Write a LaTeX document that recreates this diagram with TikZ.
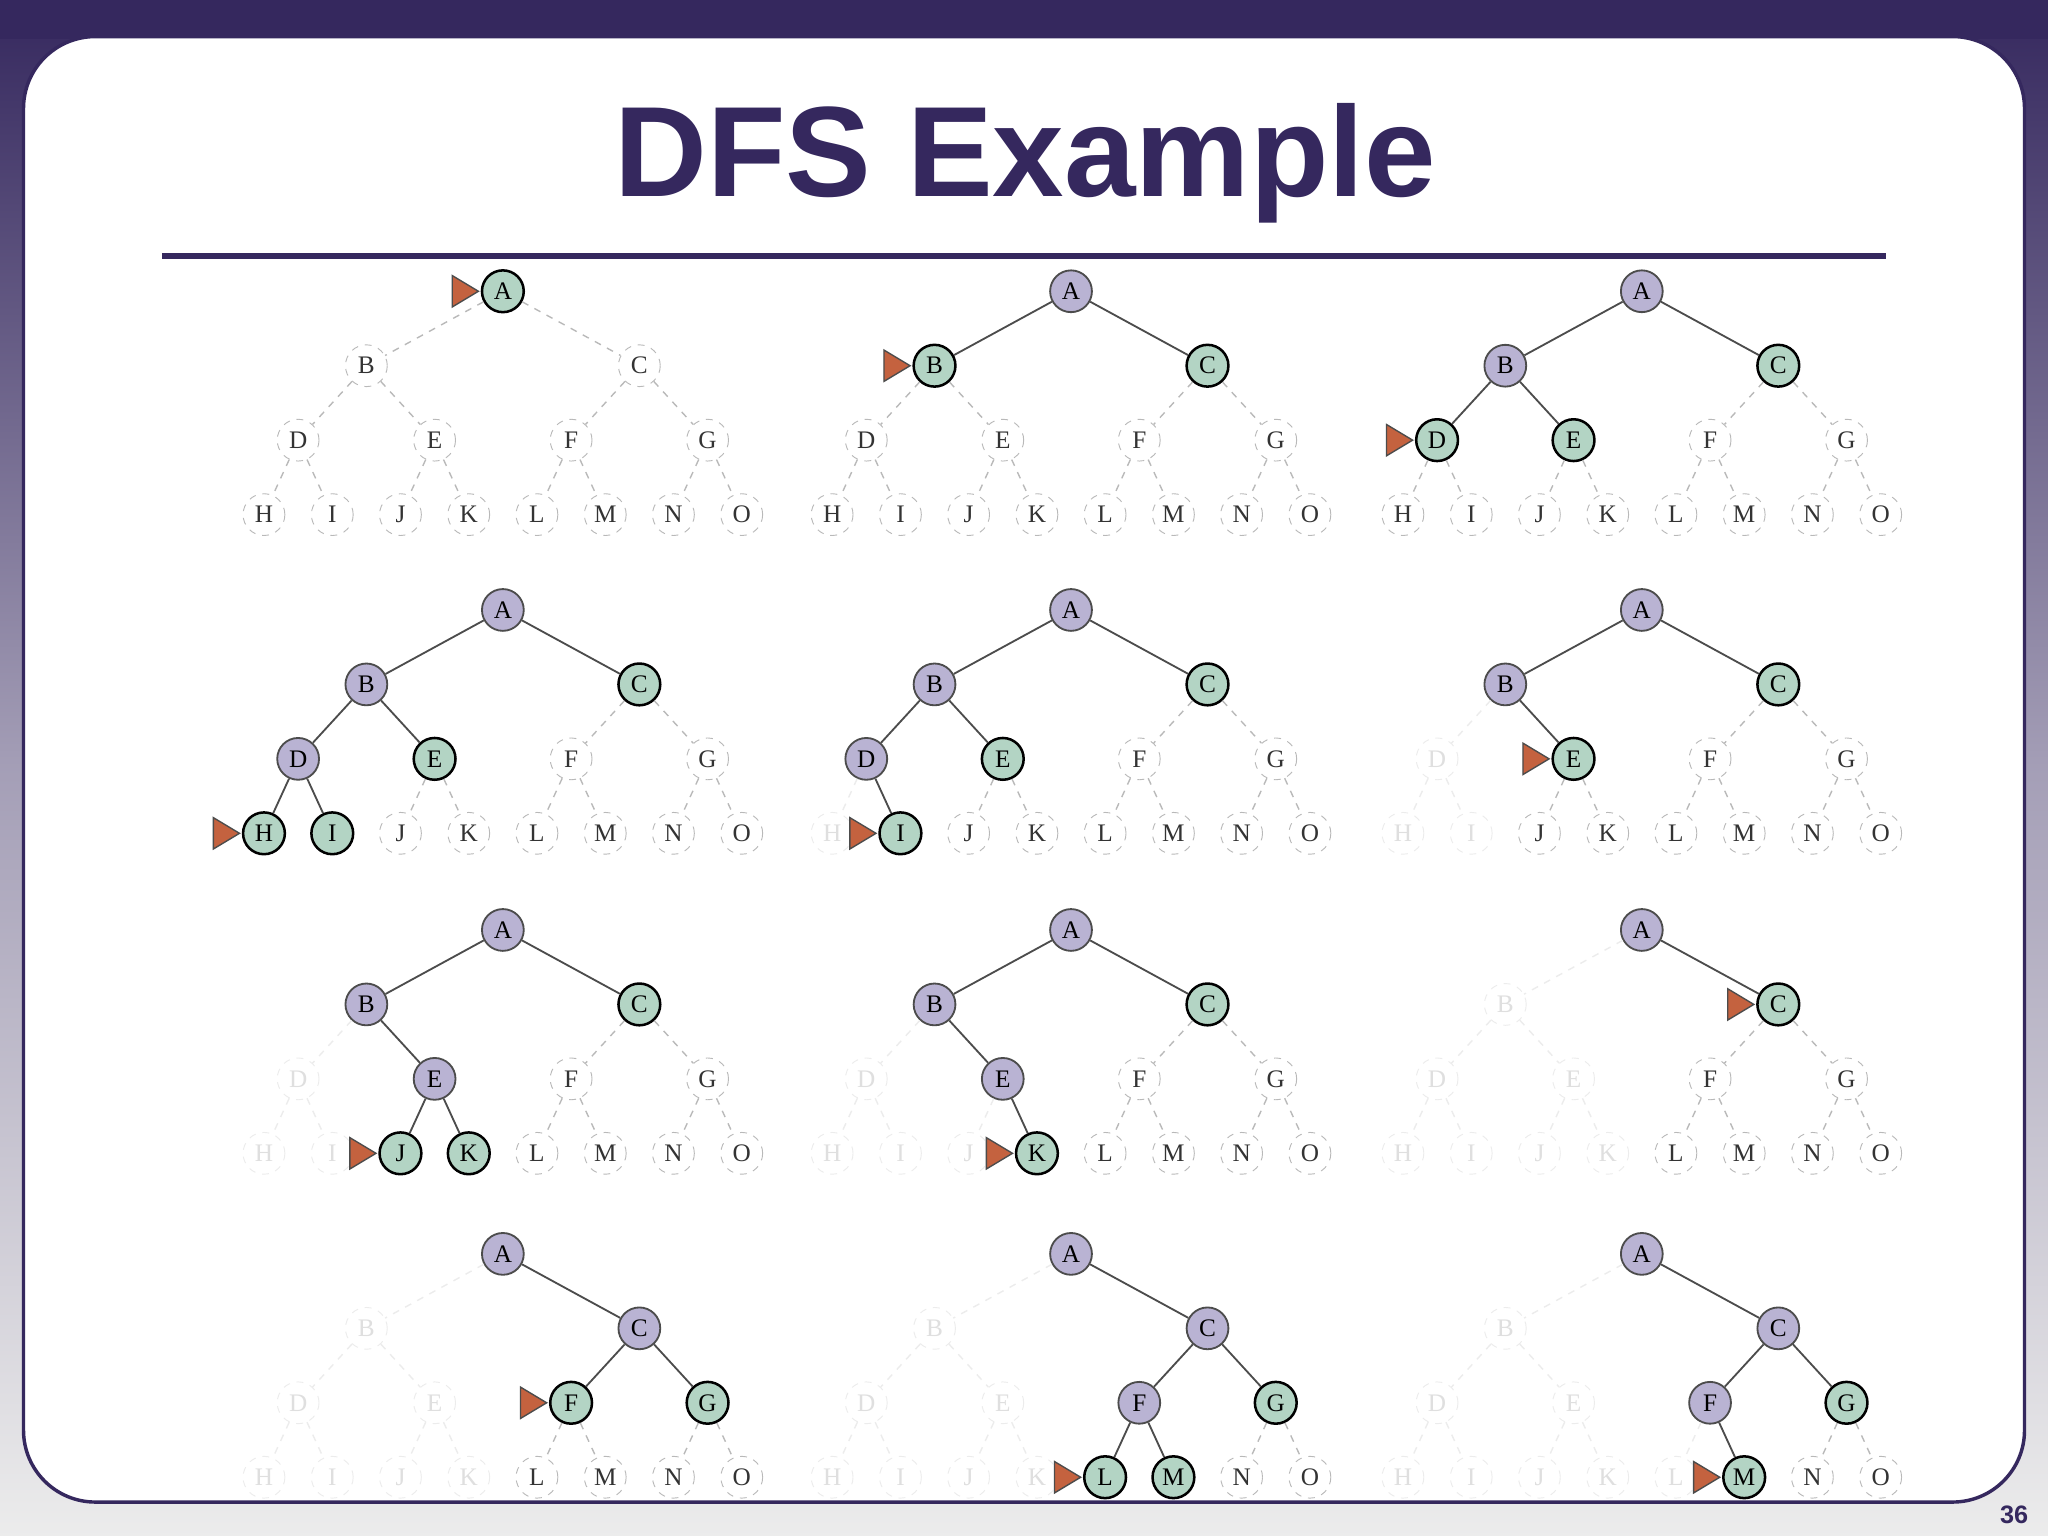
\documentclass[tikz,border=0pt]{standalone}
\usepackage{fontspec}
\setmainfont{Liberation Serif}
\newfontfamily\titlefont{Liberation Sans}
\definecolor{dpurple}{HTML}{35285E}
\definecolor{greenfill}{HTML}{B3D4C4}
\definecolor{lavfill}{HTML}{B9B3D3}
\definecolor{markfill}{HTML}{C4623F}
\tikzset{
  nbase/.style={circle,inner sep=0pt,minimum size=0.64cm,font=\fontsize{11}{11}\selectfont},
  n0/.style={nbase,draw=gray!55,dashed,fill=white,text=black!80},
  n1/.style={nbase,draw=black,line width=1.1pt,fill=greenfill},
  n2/.style={nbase,draw=black!70,line width=0.8pt,fill=lavfill},
  n3/.style={nbase,draw=gray!15,dashed,fill=white,text=gray!25},
  eu/.style={draw=gray!55,dashed,line width=0.6pt},
  ex/.style={draw=black!70,line width=0.8pt},
  er/.style={draw=gray!15,dashed,line width=0.6pt},
  marker/.style={draw=black!70,fill=markfill,line width=0.6pt}
}
\newcommand\drawtree[5]{%
  \foreach \s [count=\i] in {#4} {\expandafter\xdef\csname st\i\endcsname{\s}}
  \foreach \i/\L/\dx/\dy in {1/A/0/0,2/B/-104.5/57,3/C/104.5/57,
     4/D/-156.75/114,5/E/-52.25/114,6/F/52.25/114,7/G/156.75/114,
     8/H/-182.9/171,9/I/-130.6/171,10/J/-78.4/171,11/K/-26.1/171,
     12/L/26.1/171,13/M/78.4/171,14/N/130.6/171,15/O/182.9/171}{
    \edef\ns{n\csname st\i\endcsname}
    \node[\ns] (#1-\L) at (#2+\dx,#3+\dy) {\L};
  }
  \foreach \p/\c/\PL/\CL in {1/2/A/B,1/3/A/C,2/4/B/D,2/5/B/E,3/6/C/F,3/7/C/G,
     4/8/D/H,4/9/D/I,5/10/E/J,5/11/E/K,6/12/F/L,6/13/F/M,7/14/G/N,7/15/G/O}{
    \def\es{eu}
    \ifnum\csname st\p\endcsname=2 \def\es{ex}\fi
    \ifnum\csname st\c\endcsname=3 \def\es{er}\fi
    \ifnum\csname st\p\endcsname=3 \def\es{er}\fi
    \draw[\es] (#1-\PL) -- (#1-\CL);
  }
  \draw[marker] ([xshift=-1pt]#1-#5.west) -- ++(-20,-12) -- ++(0,24) -- cycle;
}
\begin{document}
\begin{tikzpicture}[x=0.02cm,y=-0.02cm]
\shade[top color=dpurple,bottom color=gray!15,middle color=dpurple!45] (0,0) rectangle (1568,1176);
\fill[dpurple] (0,0) rectangle (1568,30);
\draw[draw=dpurple,line width=1.5pt,fill=white,rounded corners=1.1cm] (18,28) rectangle (1550,1150);
\node[font=\titlefont\bfseries\fontsize{56}{56}\selectfont,text=dpurple] (title) at (785,125) {DFS Example};
\coordinate (l1) at (124,196); \coordinate (l2) at (1444,196);
\draw[dpurple,line width=2.2pt] (l1) -- (l2);
\node[font=\titlefont\bfseries\fontsize{11}{11}\selectfont,text=dpurple] (pg) at (1542,1160) {36};
\drawtree{p1}{385}{223}{1,0,0,0,0,0,0,0,0,0,0,0,0,0,0}{A}
\drawtree{p2}{820}{223}{2,1,1,0,0,0,0,0,0,0,0,0,0,0,0}{B}
\drawtree{p3}{1257}{223}{2,2,1,1,1,0,0,0,0,0,0,0,0,0,0}{D}
\drawtree{p4}{385}{467}{2,2,1,2,1,0,0,1,1,0,0,0,0,0,0}{H}
\drawtree{p5}{820}{467}{2,2,1,2,1,0,0,3,1,0,0,0,0,0,0}{I}
\drawtree{p6}{1257}{467}{2,2,1,3,1,0,0,3,3,0,0,0,0,0,0}{E}
\drawtree{p7}{385}{712}{2,2,1,3,2,0,0,3,3,1,1,0,0,0,0}{J}
\drawtree{p8}{820}{712}{2,2,1,3,2,0,0,3,3,3,1,0,0,0,0}{K}
\drawtree{p9}{1257}{712}{2,3,1,3,3,0,0,3,3,3,3,0,0,0,0}{C}
\drawtree{p10}{385}{960}{2,3,2,3,3,1,1,3,3,3,3,0,0,0,0}{F}
\drawtree{p11}{820}{960}{2,3,2,3,3,2,1,3,3,3,3,1,1,0,0}{L}
\drawtree{p12}{1257}{960}{2,3,2,3,3,2,1,3,3,3,3,3,1,0,0}{M}
\end{tikzpicture}
\end{document}
